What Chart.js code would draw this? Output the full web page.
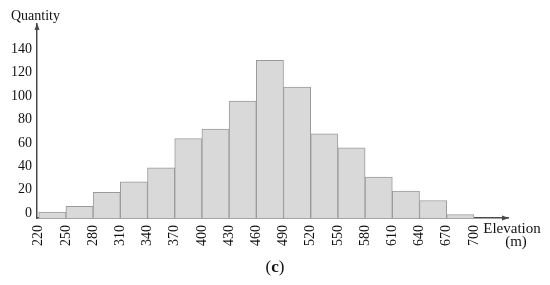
<!DOCTYPE html>
<html>
<head>
<meta charset="utf-8">
<script src="https://cdn.jsdelivr.net/npm/chart.js@4"></script>
<style>
  html, body { margin: 0; padding: 0; background: #fff; }
  #wrap { width: 550px; height: 285px; position: relative; }
</style>
</head>
<body>
<div id="wrap"><canvas id="myChart" width="550" height="285"></canvas></div>
<script>
'use strict';
// elevation bins (lower edge, m), width 30 m
let binStarts = [220, 250, 280, 310, 340, 370, 400, 430, 460, 490, 520, 550, 580, 610, 640, 670];
let counts = [5, 10, 22, 31, 43, 68, 76, 100, 135, 112, 72, 60, 35, 23, 15, 3];
let binWidth = 30;
let elevTicks = [220, 250, 280, 310, 340, 370, 400, 430, 460, 490, 520, 550, 580, 610, 640, 670, 700];
let qtyTicks = [0, 20, 40, 60, 80, 100, 120, 140];

let axisColor = '#4a4a4a';
let serif = '"Liberation Serif", "DejaVu Serif", serif';

let points = [];
for (let i = 0; i < binStarts.length; i++) {
  points.push({ x: binStarts[i] + binWidth / 2, y: counts[i] });
}

let extras = {
  id: 'extras',
  afterDraw(chart) {
    let ctx = chart.ctx;
    let a = chart.chartArea;
    ctx.save();
    ctx.fillStyle = axisColor;
    // arrow on y axis
    ctx.beginPath();
    ctx.moveTo(a.left, a.top - 1);
    ctx.lineTo(a.left - 2.5, a.top + 6);
    ctx.lineTo(a.left + 2.5, a.top + 6);
    ctx.closePath();
    ctx.fill();
    // arrow on x axis
    ctx.beginPath();
    ctx.moveTo(a.right + 1, a.bottom);
    ctx.lineTo(a.right - 6, a.bottom - 2.5);
    ctx.lineTo(a.right - 6, a.bottom + 2.5);
    ctx.closePath();
    ctx.fill();

    ctx.fillStyle = '#111';
    ctx.font = '14px ' + serif;
    ctx.textBaseline = 'middle';
    ctx.textAlign = 'left';
    ctx.fillText('Quantity', 11, 16);
    ctx.textAlign = 'center';
    ctx.font = '15px ' + serif;
    ctx.fillText('Elevation', 512, 229);
    ctx.fillText('(m)', 516, 242);

    // caption (c) with bold c
    ctx.font = '17px ' + serif;
    let wp = ctx.measureText('(').width;
    let wq = ctx.measureText(')').width;
    ctx.font = 'bold 17px ' + serif;
    let wc = ctx.measureText('c').width;
    let x0 = 275 - (wp + wc + wq) / 2;
    ctx.textAlign = 'left';
    ctx.font = '17px ' + serif;
    ctx.fillText('(', x0, 268);
    ctx.font = 'bold 17px ' + serif;
    ctx.fillText('c', x0 + wp, 268);
    ctx.font = '17px ' + serif;
    ctx.fillText(')', x0 + wp + wc, 268);
    ctx.restore();
  }
};

let ctx = document.getElementById('myChart').getContext('2d');
let myChart = new Chart(ctx, {
  type: 'bar',
  data: {
    datasets: [{
      data: points,
      backgroundColor: '#d9d9d9',
      borderColor: '#9a9a9a',
      borderWidth: 1,
      barPercentage: 1,
      categoryPercentage: 1
    }]
  },
  options: {
    responsive: false,
    animation: false,
    events: [],
    layout: { padding: { top: 24, right: 42, left: 0, bottom: 0 } },
    plugins: { legend: { display: false }, tooltip: { enabled: false } },
    scales: {
      x: {
        type: 'linear',
        offset: false,
        min: 218.1,
        max: 737.6,
        grid: { display: false, drawTicks: false },
        border: { display: true, color: axisColor, width: 1.5 },
        afterBuildTicks: function (scale) {
          scale.ticks = elevTicks.map(v => ({ value: v }));
        },
        afterFit: function (scale) { scale.height = 67; },
        ticks: {
          autoSkip: false,
          minRotation: 90,
          maxRotation: 90,
          padding: 7,
          color: '#111',
          font: { family: serif, size: 14 }
        }
      },
      y: {
        min: 0,
        max: 166,
        grid: { display: false, drawTicks: false },
        border: { display: true, color: axisColor, width: 1.5 },
        afterBuildTicks: function (scale) {
          scale.ticks = qtyTicks.map(v => ({ value: v }));
        },
        afterFit: function (scale) { scale.width = 37; },
        ticks: {
          padding: 5,
          labelOffset: -5,
          color: '#111',
          font: { family: serif, size: 14 }
        }
      }
    }
  },
  plugins: [extras]
});
</script>
</body>
</html>
